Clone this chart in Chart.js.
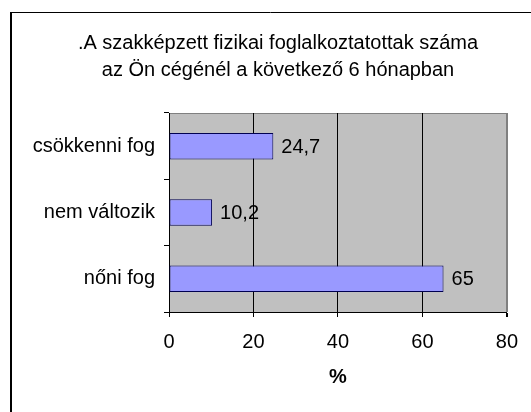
<!DOCTYPE html>
<html>
<head>
<meta charset="utf-8">
<script src="https://cdn.jsdelivr.net/npm/chart.js@4"></script>
<style>
  body { margin: 0; background: #fff; }
  canvas { display: block; }
</style>
</head>
<body>
<canvas id="chart" width="531" height="412"></canvas>
<script>
const titleLines = ['.A szakképzett fizikai foglalkoztatottak száma', 'az Ön cégénél a következő 6 hónapban'];
const categories = ['csökkenni fog', 'nem változik', 'nőni fog'];
const values = [24.7, 10.2, 65];
const xTicks = [0, 20, 40, 60, 80];
const axisTitle = '%';

const FONT = 'Liberation Sans, Arial, sans-serif';

// outer frame + grey plot background
const frameAndBg = {
  id: 'frameAndBg',
  beforeDraw(chart) {
    const { ctx, chartArea: a } = chart;
    ctx.save();
    ctx.fillStyle = '#c0c0c0';
    ctx.fillRect(a.left, a.top, a.right - a.left, a.bottom - a.top);
    ctx.strokeStyle = '#808080';
    ctx.lineWidth = 1;
    ctx.beginPath();
    ctx.moveTo(a.left, a.top + 0.5);
    ctx.lineTo(a.right, a.top + 0.5);
    ctx.stroke();
    // frame
    ctx.strokeStyle = '#000';
    ctx.lineWidth = 2;
    ctx.beginPath();
    ctx.moveTo(11, 412);
    ctx.lineTo(11, 12);
    ctx.stroke();
    ctx.lineWidth = 1;
    ctx.beginPath();
    ctx.moveTo(10, 12.5);
    ctx.lineTo(531, 12.5);
    ctx.stroke();
    ctx.restore();
  }
};

const topTitle = {
  id: 'topTitle',
  afterDraw(chart) {
    const ctx = chart.ctx;
    ctx.save();
    ctx.font = '20px ' + FONT;
    ctx.fillStyle = '#000';
    ctx.textAlign = 'center';
    ctx.textBaseline = 'middle';
    titleLines.forEach((t, i) => ctx.fillText(t, 278, 43 + i * 27));
    ctx.restore();
  }
};

const barLabels = {
  id: 'barLabels',
  afterDatasetsDraw(chart) {
    const ctx = chart.ctx;
    ctx.save();
    ctx.font = '20px ' + FONT;
    ctx.fillStyle = '#000';
    ctx.textAlign = 'left';
    ctx.textBaseline = 'middle';
    chart.getDatasetMeta(0).data.forEach((bar, i) => {
      ctx.fillText(String(values[i]).replace('.', ','), bar.x + 8, bar.y + 1);
    });
    ctx.restore();
  }
};

new Chart(document.getElementById('chart'), {
  type: 'bar',
  data: {
    labels: categories,
    datasets: [{
      data: values,
      backgroundColor: '#9999ff',
      borderColor: '#000050',
      borderWidth: 1,
      borderSkipped: false,
      barPercentage: 0.4,
      categoryPercentage: 1
    }]
  },
  options: {
    indexAxis: 'y',
    responsive: false,
    animation: false,
    layout: { padding: { top: 113, right: 22, left: 0, bottom: 0 } },
    plugins: {
      legend: { display: false },
      title: { display: false },
      tooltip: { enabled: false }
    },
    scales: {
      x: {
        min: xTicks[0],
        max: xTicks[xTicks.length - 1],
        afterFit(scale) { scale.height = 100; },
        afterBuildTicks(scale) { scale.ticks = xTicks.map(v => ({ value: v })); },
        ticks: {
          color: '#000',
          font: { family: FONT, size: 20 },
          padding: 13,
          maxRotation: 0
        },
        grid: {
          color: ctx => ctx.index === xTicks.length - 1 ? '#808080' : '#000',
          lineWidth: ctx => ctx.index === xTicks.length - 1 ? 2 : 1,
          tickColor: '#000',
          tickLength: 5
        },
        border: { display: true, color: '#000', width: 1 },
        title: {
          display: true,
          text: axisTitle,
          color: '#000',
          font: { family: FONT, size: 20, weight: 'bold' },
          padding: { top: 0, bottom: 23 }
        }
      },
      y: {
        afterFit(scale) { scale.width = 169; },
        ticks: {
          color: '#000',
          font: { family: FONT, size: 20 },
          padding: 9
        },
        grid: {
          offset: true,
          drawOnChartArea: false,
          tickColor: '#000',
          tickLength: 5
        },
        border: { display: true, color: '#000', width: 1 }
      }
    }
  },
  plugins: [frameAndBg, topTitle, barLabels]
});
</script>
</body>
</html>
